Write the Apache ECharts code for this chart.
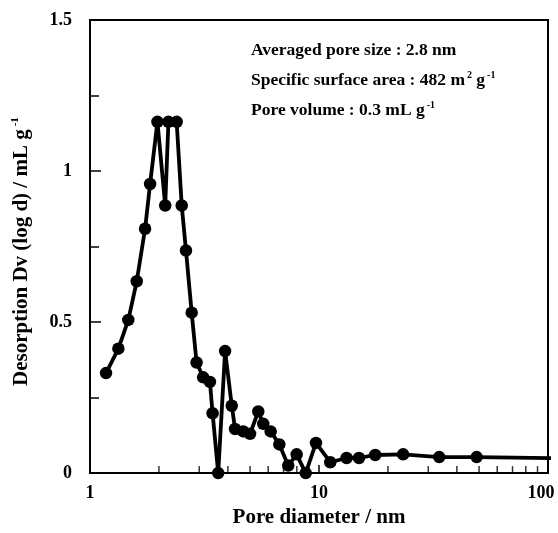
<!DOCTYPE html>
<html>
<head>
<meta charset="utf-8">
<script src="https://cdn.jsdelivr.net/npm/echarts@6/dist/echarts.min.js"></script>
<style>
html,body{margin:0;padding:0;background:#fff;}
#chart{width:558px;height:533px;}
</style>
</head>
<body>
<div id="chart"></div>
<script>
// Data
var poreDiameter = [1.175, 1.33, 1.47, 1.6, 1.74, 1.83, 1.97, 2.13, 2.2, 2.39, 2.515, 2.625, 2.78, 2.92, 3.12, 3.34, 3.43, 3.63, 3.89, 4.16, 4.30, 4.67, 5.0, 5.43, 5.71, 6.15, 6.71, 7.34, 7.99, 8.75, 9.7, 11.2, 13.2, 14.95, 17.6, 23.3, 33.5, 48.8, 150];
var dv = [0.331, 0.412, 0.507, 0.635, 0.809, 0.957, 1.163, 0.886, 1.163, 1.163, 0.886, 0.737, 0.531, 0.366, 0.317, 0.302, 0.198, 0.0, 0.404, 0.223, 0.146, 0.138, 0.130, 0.204, 0.163, 0.138, 0.095, 0.025, 0.062, 0.0, 0.100, 0.036, 0.050, 0.050, 0.060, 0.062, 0.053, 0.053, 0.048];
var xMinorTicks = [2, 3, 4, 5, 6, 7, 8, 9, 20, 30, 40, 50, 60, 70, 80, 90];
var xTickLabels = [1, 10, 100];
var yTickLabels = [0, 0.5, 1, 1.5];
var annotations = [
  [['n', 'Averaged pore size : 2.8 nm']],
  [['n', 'Specific surface area : 482 m'], ['s', '2'], ['n', ' g'], ['s', '-1']],
  [['n', 'Pore volume : 0.3 mL g'], ['s', '-1']]
];

var FONT = '"Liberation Serif", "Times New Roman", serif';
var chart = echarts.init(document.getElementById('chart'));

var pts = poreDiameter.map(function (x, i) { return [x, dv[i]]; });
var minorPts = xMinorTicks.map(function (x) { return [x, 0]; });

function richLine(parts) {
  return parts.map(function (p) { return '{' + p[0] + '|' + p[1] + '}'; }).join('');
}
var annoRich = {
  n: { fontFamily: FONT, fontWeight: 'bold', fontSize: 17.5, fill: '#000', lineHeight: 20 },
  s: { fontFamily: FONT, fontWeight: 'bold', fontSize: 10, fill: '#000', lineHeight: 20, verticalAlign: 'top', padding: [0, 0, 0, 2] }
};
var annoTops = [41, 70, 100];
var graphics = annotations.map(function (parts, i) {
  return {
    type: 'text', left: 251, top: annoTops[i], z: 10,
    style: { text: richLine(parts), rich: annoRich, fill: '#000', font: 'bold 17.5px ' + FONT }
  };
});

chart.setOption({
  animation: false,
  backgroundColor: '#fff',
  grid: { left: 90, right: 10, top: 20, bottom: 57, show: true, borderColor: '#000', borderWidth: 2, backgroundColor: 'transparent' },
  graphic: graphics,
  xAxis: {
    type: 'log', logBase: 10, min: 1, max: 100,
    name: 'Pore diameter / nm', nameLocation: 'middle', nameGap: 31,
    nameTextStyle: { fontFamily: FONT, fontWeight: 'bold', fontSize: 21, color: '#000' },
    axisLine: { lineStyle: { color: '#000', width: 2 } },
    axisTick: { show: true, inside: true, length: 8, lineStyle: { color: '#000', width: 1.5 } },
    splitLine: { show: false },
    axisLabel: {
      color: '#000', fontFamily: FONT, fontWeight: 'bold', fontSize: 18, margin: 11,
      formatter: function (v) {
        if (xTickLabels.indexOf(v) < 0) return '';
        if (v === 100) return '{r|100}';
        return String(v);
      },
      rich: { r: { fontFamily: FONT, fontWeight: 'bold', fontSize: 18, color: '#000', padding: [0, 14, 0, 0] } }
    }
  },
  yAxis: {
    type: 'value', min: 0, max: 1.5, interval: 0.5,
    name: '{a|Desorption Dv (log d) / mL g}{s|-1}', nameLocation: 'middle', nameGap: 57,
    nameTextStyle: {
      color: '#000', padding: [0, 0, 0, -10],
      rich: {
        a: { fontFamily: FONT, fontWeight: 'bold', fontSize: 21, color: '#000', lineHeight: 23 },
        s: { fontFamily: FONT, fontWeight: 'bold', fontSize: 11, color: '#000', lineHeight: 23, verticalAlign: 'top', padding: [0, 0, 0, 3] }
      }
    },
    axisLine: { show: true, lineStyle: { color: '#000', width: 2 } },
    axisTick: { show: true, inside: true, length: 11, lineStyle: { color: '#000', width: 1.5 } },
    minorTick: { show: true, splitNumber: 2, length: 9, lineStyle: { color: '#000', width: 1.5 } },
    splitLine: { show: false },
    minorSplitLine: { show: false },
    axisLabel: {
      color: '#000', fontFamily: FONT, fontWeight: 'bold', fontSize: 18, margin: 18,
      formatter: function (v) { return yTickLabels.indexOf(v) >= 0 ? String(v) : ''; }
    }
  },
  series: [
    {
      type: 'line', data: pts, clip: true,
      symbol: 'circle', symbolSize: 12.5, showSymbol: true,
      lineStyle: { color: '#000', width: 3.8 },
      itemStyle: { color: '#000' },
      z: 3
    },
    {
      type: 'scatter', data: minorPts, symbol: 'rect', symbolSize: [1.5, 7], symbolOffset: [0, -3.5],
      itemStyle: { color: '#000' }, silent: true, z: 2
    }
  ]
});
</script>
</body>
</html>
